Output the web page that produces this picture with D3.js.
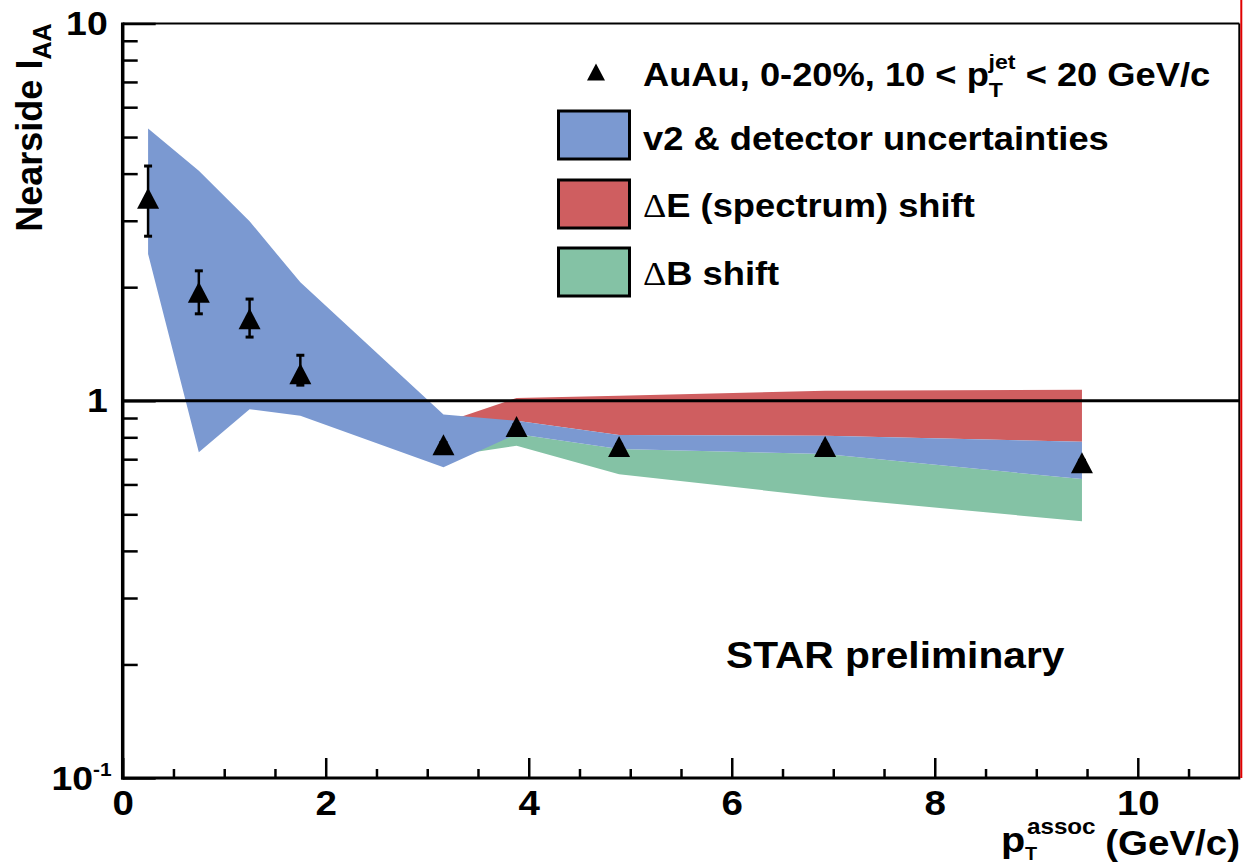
<!DOCTYPE html>
<html><head><meta charset="utf-8">
<script src="https://cdn.jsdelivr.net/npm/d3@7"></script>
<style>
body{margin:0;background:#fff}
svg{display:block}
text{font-family:"Liberation Sans",Arial,Helvetica,sans-serif;font-weight:bold;fill:#000}
</style></head><body>
<svg id="chart" width="1247" height="864"></svg>
<script>
// Near-side I_AA versus associated-particle pT, AuAu 0-20%, 10 < pT(jet) < 20 GeV/c
const ptAssoc  = [0.25, 0.75, 1.25, 1.75, 3.16, 3.88, 4.89, 6.92, 9.45];
const iaa      = [3.44, 1.94, 1.65, 1.18, 0.765, 0.854, 0.756, 0.756, 0.685];
const statHigh = [4.19, 2.21, 1.86, 1.32, 0.775, 0.864, 0.766, 0.766, 0.695];
const statLow  = [2.73, 1.70, 1.475, 1.10, 0.755, 0.844, 0.746, 0.746, 0.675];

// v2 & detector systematic band
const sysHigh = [5.27, 4.07, 2.99, 2.06, 0.92, 0.885, 0.811, 0.808, 0.779];
const sysLow  = [2.45, 0.73, 0.95, 0.912, 0.666, 0.816, 0.745, 0.722, 0.62];

// spectrum (dE) and background (dB) shift bands
const shiftPt = [3.16, 3.88, 4.89, 6.92, 9.45];
const dEHigh  = [0.875, 1.017, 1.031, 1.063, 1.07];
const dELow   = [0.84, 0.885, 0.811, 0.808, 0.779];
const dBHigh  = [0.80, 0.816, 0.745, 0.722, 0.62];
const dBLow   = [0.71, 0.760, 0.639, 0.555, 0.479];

// axis ticks
const xMajor = [0, 2, 4, 6, 8, 10];
const xMinor = [0.5, 1, 1.5, 2.5, 3, 3.5, 4.5, 5, 5.5, 6.5, 7, 7.5, 8.5, 9, 9.5, 10.5];
const yMajor = [0.1, 1, 10];
const yMajorBase = ["10", "1", "10"];
const yMajorExp  = ["-1", "", ""];
const yMinor = [0.2, 0.3, 0.4, 0.5, 0.6, 0.7, 0.8, 0.9, 2, 3, 4, 5, 6, 7, 8, 9];

const colors = {sys: "#7b99d1", dE: "#cf5e60", dB: "#84c2a5"};
const SX = 1.1; // horizontal glyph stretch

const svg = d3.select("#chart");
const plotL = 122.7, plotR = 1239.3, plotT = 23.5, plotB = 778;

const x = d3.scaleLinear().domain([0, 11]).range([plotL, plotR]);
const y = d3.scaleLog().domain([0.1, 10]).range([plotB, plotT]);

function stext(parent, px, py, anchor, size) {
  return parent.append("text")
    .attr("transform", `translate(${px},${py}) scale(${SX},1)`)
    .attr("text-anchor", anchor)
    .style("font-size", size + "px");
}

// ---- bands ----
const area = d3.area().x(d => x(d.x)).y0(d => y(d.lo)).y1(d => y(d.hi));
const bands = [
  {color: colors.dE, xs: shiftPt, lo: dELow, hi: dEHigh},
  {color: colors.dB, xs: shiftPt, lo: dBLow, hi: dBHigh},
  {color: colors.sys, xs: ptAssoc, lo: sysLow, hi: sysHigh}
];
bands.forEach(b => {
  const bp = b.xs.map((v, i) => ({x: v, lo: b.lo[i], hi: b.hi[i]}));
  svg.append("path").attr("d", area(bp)).attr("fill", b.color);
});

// ---- reference line at unity ----
svg.append("line")
  .attr("x1", x(0)).attr("x2", x(11)).attr("y1", y(1)).attr("y2", y(1))
  .attr("stroke", "#000").attr("stroke-width", 3);

// ---- data points ----
const pts = ptAssoc.map((v, i) => ({x: v, y: iaa[i], lo: statLow[i], hi: statHigh[i]}));
const pg = svg.append("g");
pts.forEach(d => {
  const cx = x(d.x);
  pg.append("line").attr("x1", cx).attr("x2", cx)
    .attr("y1", y(d.lo)).attr("y2", y(d.hi))
    .attr("stroke", "#000").attr("stroke-width", 2.5);
  [d.lo, d.hi].forEach(v => {
    pg.append("rect").attr("x", cx - 4).attr("y", y(v) - 1.5)
      .attr("width", 8).attr("height", 3).attr("fill", "#000");
  });
});
function triangle(cx, cy, w, h) {
  return `M${cx - w / 2},${cy + h / 2}L${cx + w / 2},${cy + h / 2}L${cx},${cy - h / 2}Z`;
}
pg.selectAll("path.marker").data(pts).enter().append("path")
  .attr("class", "marker")
  .attr("d", d => triangle(x(d.x), y(d.y), 22, 21))
  .attr("fill", "#000");

// ---- axes ----
const xAxis = d3.axisBottom(x).tickValues(xMajor).tickSize(-20).tickPadding(12)
  .tickFormat(d3.format("d"));
const gx = svg.append("g").attr("transform", `translate(0,${plotB})`).call(xAxis);
gx.select(".domain").remove();
gx.selectAll(".tick line").attr("stroke-width", 2.5);
gx.selectAll(".tick text")
  .attr("transform", `scale(${SX},1)`)
  .style("font-size", "35px").style("font-family", "Liberation Sans, Arial, sans-serif")
  .style("font-weight", "bold");

const gxm = svg.append("g").attr("transform", `translate(0,${plotB})`)
  .call(d3.axisBottom(x).tickValues(xMinor).tickSize(-9).tickFormat(""));
gxm.select(".domain").remove();
gxm.selectAll(".tick line").attr("stroke-width", 2.5);

const gy = svg.append("g").attr("transform", `translate(${plotL},0)`)
  .call(d3.axisLeft(y).tickValues(yMajor).tickSize(-33).tickFormat(""));
gy.select(".domain").remove();
gy.selectAll(".tick line").attr("stroke-width", 2.5);

const gym = svg.append("g").attr("transform", `translate(${plotL},0)`)
  .call(d3.axisLeft(y).tickValues(yMinor).tickSize(-15).tickFormat(""));
gym.select(".domain").remove();
gym.selectAll(".tick line").attr("stroke-width", 2.5);

// y tick labels (powers of ten)
yMajor.forEach((v, i) => {
  const t = stext(svg, plotL - (yMajorExp[i] ? 11 : 15), y(v) + 11.5, "end", 34);
  t.append("tspan").text(yMajorBase[i]);
  if (yMajorExp[i]) {
    t.append("tspan").attr("dy", -14).style("font-size", "19px").text(yMajorExp[i]);
  }
});

// frame
svg.append("line").attr("x1", plotL).attr("x2", plotL).attr("y1", plotT - 1).attr("y2", plotB + 1.5)
  .attr("stroke", "#000").attr("stroke-width", 3.5);
svg.append("line").attr("x1", plotL - 1.5).attr("x2", plotR + 1).attr("y1", plotB).attr("y2", plotB)
  .attr("stroke", "#000").attr("stroke-width", 3);
svg.append("line").attr("x1", plotL).attr("x2", plotR).attr("y1", plotT).attr("y2", plotT)
  .attr("stroke", "#000").attr("stroke-width", 2);
svg.append("line").attr("x1", plotR).attr("x2", plotR).attr("y1", plotT).attr("y2", plotB)
  .attr("stroke", "#000").attr("stroke-width", 2);
svg.append("line").attr("x1", plotR + 2).attr("x2", plotR + 2).attr("y1", 0).attr("y2", plotB)
  .attr("stroke", "#e00000").attr("stroke-width", 2);

// ---- axis titles ----
const yt = svg.append("text")
  .attr("transform", `translate(42,${plotT}) rotate(-90)`)
  .attr("text-anchor", "end").style("font-size", "36px");
yt.append("tspan").text("Nearside I");
yt.append("tspan").attr("dy", 9).style("font-size", "25px").text("AA");

stext(svg, 1240, 855, "end", 35).text("(GeV/c)");
stext(svg, 1001, 852, "start", 36).text("p");
stext(svg, 1025, 860, "start", 18).text("T");
stext(svg, 1027, 834, "start", 22).text("assoc");

// ---- legend ----
const legend = svg.append("g");
legend.append("path").attr("d", triangle(596, 72, 18, 17)).attr("fill", "#000");
const l0 = stext(legend, 643, 86, "start", 33);
l0.append("tspan").text("AuAu, 0-20%, 10 < p");
l0.append("tspan").attr("dy", 11).style("font-size", "21px").text("T");
l0.append("tspan").attr("dx", -13).attr("dy", -28).style("font-size", "21px").text("jet");
l0.append("tspan").attr("dy", 17).text(" < 20 GeV/c");

const legendItems = [
  {color: colors.sys, label: ["", "v2 & detector uncertainties"], y0: 111, base: 150},
  {color: colors.dE, label: ["\u0394", "E (spectrum) shift"], y0: 180, base: 217},
  {color: colors.dB, label: ["\u0394", "B shift"], y0: 248, base: 285}
];
legendItems.forEach(it => {
  legend.append("rect").attr("x", 558.5).attr("y", it.y0)
    .attr("width", 71).attr("height", 48)
    .attr("fill", it.color).attr("stroke", "#000").attr("stroke-width", 3);
  const t = stext(legend, 643, it.base, "start", 33);
  if (it.label[0]) {
    t.append("tspan").style("font-family", "Liberation Serif, DejaVu Serif, serif")
      .style("font-weight", "normal").text(it.label[0]);
  }
  t.append("tspan").text(it.label[1]);
});

// ---- annotation ----
stext(svg, 726, 668, "start", 37).text("STAR preliminary");
</script>
</body></html>
